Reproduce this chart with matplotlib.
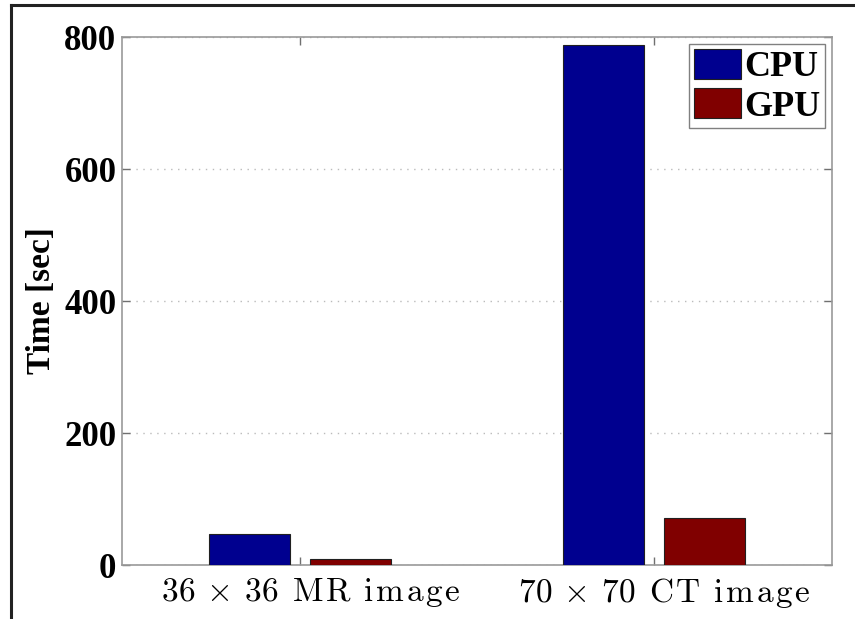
import numpy as np
import matplotlib
matplotlib.use("Agg")
import matplotlib.pyplot as plt
from matplotlib.lines import Line2D

categories = ["36 × 36 MR image", "70 × 70 CT image"]
cpu_times = [47, 788]
gpu_times = [9, 71]
series_names = ["CPU", "GPU"]
y_ticks = [0, 200, 400, 600, 800]

plt.rcParams['mathtext.fontset'] = 'cm'
plt.rcParams['font.family'] = 'Liberation Serif'
plt.rcParams['font.weight'] = 'bold'


def spaced_math(label):
    # latex-like label with a little letter spacing, as in the original
    words = label.split(" ")
    out = r"\hspace{0.75}"  # original labels sit ~10px right of the tick
    for i, word in enumerate(words):
        if word == "×":
            out += r"\hspace{0.2}\times\hspace{0.2}"
            continue
        if i > 0 and words[i - 1] != "×":
            out += r"\ \hspace{0.15}"
        if word.isdigit():
            out += word
        else:
            out += r"\mathrm{" + r"\hspace{0.09}".join(word) + "}"
    return "$" + out + "$"


fig = plt.figure(figsize=(8.55, 6.19), dpi=100)
ax = fig.add_axes([122/855, 54/619, 710/855, 528/619])

x = np.arange(1, len(categories) + 1)
w = 0.23
off = 0.143
ax.bar(x - off, cpu_times, w, color='#00008F', edgecolor='#202020', linewidth=0.8,
       label=series_names[0], zorder=3)
ax.bar(x + off, gpu_times, w, color='#800000', edgecolor='#202020', linewidth=0.8,
       label=series_names[1], zorder=3)

ax.set_xlim(0.497, 2.503)
ax.set_ylim(0, 800)
ax.set_yticks(y_ticks)
ax.set_yticklabels([str(v) for v in y_ticks], fontsize=25, fontweight='bold')
ax.set_xticks(x)
ax.set_xticklabels([spaced_math(c) for c in categories], fontsize=24)

ax.tick_params(direction='in', length=6, width=1, color='#707070', top=True, right=True)
ax.tick_params(axis='y', pad=4)
ax.tick_params(axis='x', pad=8)
for s in ax.spines.values():
    s.set_color('#999999')
    s.set_linewidth(1.2)

ax.yaxis.grid(True, linestyle=(0, (1, 4)), color='#bbbbbb', linewidth=1, zorder=0)
ax.set_axisbelow(True)

ax.set_ylabel("Time [sec]", fontsize=24, fontweight='bold', labelpad=5)

leg = ax.legend(loc='upper right', prop={'weight': 'bold', 'size': 26},
                fancybox=False, edgecolor='#808080', framealpha=1,
                handlelength=1.3, handleheight=0.9, handletextpad=0.1,
                labelspacing=0.12, borderpad=0.12, borderaxespad=0.2)
leg.get_frame().set_linewidth(1)

# figure border (top and left)
fig.add_artist(Line2D([10.5/855, 10.5/855], [0, 1 - 4.5/619], color='#222222', linewidth=2.2))
fig.add_artist(Line2D([10.5/855, 1], [1 - 4.5/619, 1 - 4.5/619], color='#222222', linewidth=2.2))

fig.savefig("out.png", dpi=100)
